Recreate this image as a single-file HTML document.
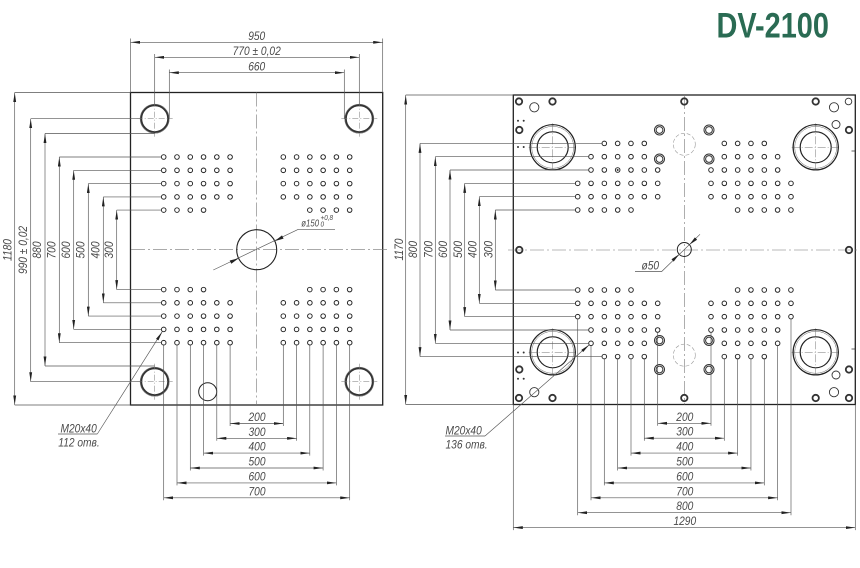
<!DOCTYPE html>
<html>
<head>
<meta charset="utf-8">
<style>
html,body{margin:0;padding:0;background:#fff;width:860px;height:568px;overflow:hidden}
svg{display:block}
.o{fill:none;stroke:#222;stroke-width:1.3}
.d{fill:none;stroke:#555;stroke-width:0.65}
.c{fill:none;stroke:#777;stroke-width:0.6;stroke-dasharray:14 3 2 3}
.h{fill:none;stroke:#222;stroke-width:0.95}
.tr{fill:none;stroke:#333;stroke-width:1.8}
.tn{fill:none;stroke:#333;stroke-width:0.9}
text{font-family:"Liberation Sans",sans-serif;font-style:italic;font-size:12px;fill:#4a4a4a}
</style>
</head>
<body>
<svg width="860" height="568" viewBox="0 0 860 568" xmlns="http://www.w3.org/2000/svg">
<defs>
<marker id="a" viewBox="0 0 10 3" refX="10" refY="1.5" markerWidth="9.5" markerHeight="3.1" markerUnits="userSpaceOnUse" orient="auto-start-reverse"><path d="M0 0L10 1.5L0 3z" fill="#222"/></marker>
<path id="P6" class="h" d="M-2.3 0a2.3 2.3 0 1 0 4.6 0a2.3 2.3 0 1 0-4.6 0m13.28 0a2.3 2.3 0 1 0 4.6 0a2.3 2.3 0 1 0-4.6 0m13.28 0a2.3 2.3 0 1 0 4.6 0a2.3 2.3 0 1 0-4.6 0m13.28 0a2.3 2.3 0 1 0 4.6 0a2.3 2.3 0 1 0-4.6 0m13.28 0a2.3 2.3 0 1 0 4.6 0a2.3 2.3 0 1 0-4.6 0m13.28 0a2.3 2.3 0 1 0 4.6 0a2.3 2.3 0 1 0-4.6 0"/>
<path id="P4" class="h" d="M-2.3 0a2.3 2.3 0 1 0 4.6 0a2.3 2.3 0 1 0-4.6 0m13.28 0a2.3 2.3 0 1 0 4.6 0a2.3 2.3 0 1 0-4.6 0m13.28 0a2.3 2.3 0 1 0 4.6 0a2.3 2.3 0 1 0-4.6 0m13.28 0a2.3 2.3 0 1 0 4.6 0a2.3 2.3 0 1 0-4.6 0"/>
<path id="N4" class="h" d="M-2.3 0a2.3 2.3 0 1 0 4.6 0a2.3 2.3 0 1 0-4.6 0m13.33 0a2.3 2.3 0 1 0 4.6 0a2.3 2.3 0 1 0-4.6 0m13.33 0a2.3 2.3 0 1 0 4.6 0a2.3 2.3 0 1 0-4.6 0m13.33 0a2.3 2.3 0 1 0 4.6 0a2.3 2.3 0 1 0-4.6 0"/>
<path id="N5" class="h" d="M-2.3 0a2.3 2.3 0 1 0 4.6 0a2.3 2.3 0 1 0-4.6 0m13.33 0a2.3 2.3 0 1 0 4.6 0a2.3 2.3 0 1 0-4.6 0m13.33 0a2.3 2.3 0 1 0 4.6 0a2.3 2.3 0 1 0-4.6 0m13.33 0a2.3 2.3 0 1 0 4.6 0a2.3 2.3 0 1 0-4.6 0m13.33 0a2.3 2.3 0 1 0 4.6 0a2.3 2.3 0 1 0-4.6 0"/>
<path id="N6" class="h" d="M-2.3 0a2.3 2.3 0 1 0 4.6 0a2.3 2.3 0 1 0-4.6 0m13.33 0a2.3 2.3 0 1 0 4.6 0a2.3 2.3 0 1 0-4.6 0m13.33 0a2.3 2.3 0 1 0 4.6 0a2.3 2.3 0 1 0-4.6 0m13.33 0a2.3 2.3 0 1 0 4.6 0a2.3 2.3 0 1 0-4.6 0m13.33 0a2.3 2.3 0 1 0 4.6 0a2.3 2.3 0 1 0-4.6 0m13.33 0a2.3 2.3 0 1 0 4.6 0a2.3 2.3 0 1 0-4.6 0"/>
<path id="N7" class="h" d="M-2.3 0a2.3 2.3 0 1 0 4.6 0a2.3 2.3 0 1 0-4.6 0m13.33 0a2.3 2.3 0 1 0 4.6 0a2.3 2.3 0 1 0-4.6 0m13.33 0a2.3 2.3 0 1 0 4.6 0a2.3 2.3 0 1 0-4.6 0m13.33 0a2.3 2.3 0 1 0 4.6 0a2.3 2.3 0 1 0-4.6 0m13.33 0a2.3 2.3 0 1 0 4.6 0a2.3 2.3 0 1 0-4.6 0m13.33 0a2.3 2.3 0 1 0 4.6 0a2.3 2.3 0 1 0-4.6 0m13.33 0a2.3 2.3 0 1 0 4.6 0a2.3 2.3 0 1 0-4.6 0"/>
<g id="LB">
<circle r="14.5" fill="none" stroke="#777" stroke-width="0.7"/>
<circle r="13.4" fill="none" stroke="#333" stroke-width="1.8"/>
<path d="M-18 0H18M0-18V18" fill="none" stroke="#777" stroke-width="0.5" stroke-dasharray="6 2 1 2"/>
</g>
<g id="RB">
<circle r="22.6" fill="none" stroke="#222" stroke-width="1.2"/>
<circle r="21" fill="none" stroke="#666" stroke-width="0.5"/>
<circle r="15.5" fill="none" stroke="#222" stroke-width="1.2"/>
<path d="M-24 0H24M0-24V24" fill="none" stroke="#777" stroke-width="0.5" stroke-dasharray="8 2 1 2"/>
<path d="M-22.6-1.2v2.4M22.6-1.2v2.4M-1.2-22.6h2.4M-1.2 22.6h2.4" stroke="#222" stroke-width="1"/>
</g>
<g id="DR">
<circle r="5" fill="none" stroke="#333" stroke-width="1"/>
<circle r="3.4" fill="none" stroke="#333" stroke-width="1"/>
</g>
</defs>

<!-- Title -->
<text transform="translate(716.5 37.3) scale(0.826 1)" style="font-style:normal;font-weight:bold;font-size:35px;fill:#2a6b53">DV-2100</text>

<!-- ================= LEFT PLATE ================= -->
<rect class="o" x="130.5" y="92.5" width="252.2" height="312.5"/>
<path class="c" d="M256.7 92.5V405M131 249.7H388"/>

<use href="#LB" x="154.7" y="118.7"/>
<use href="#LB" x="359.3" y="118.7"/>
<use href="#LB" x="154.7" y="381.7"/>
<use href="#LB" x="359.3" y="381.7"/>

<circle cx="256.7" cy="249.7" r="20" fill="none" stroke="#222" stroke-width="1.1"/>
<circle cx="207.7" cy="391.7" r="9" fill="none" stroke="#222" stroke-width="1"/>

<!-- holes left plate -->
<use href="#P6" x="163.7" y="157"/><use href="#P6" x="283.3" y="157"/>
<use href="#P6" x="163.7" y="170.3"/><use href="#P6" x="283.3" y="170.3"/>
<use href="#P6" x="163.7" y="183.6"/><use href="#P6" x="283.3" y="183.6"/>
<use href="#P6" x="163.7" y="196.9"/><use href="#P6" x="283.3" y="196.9"/>
<use href="#P4" x="163.7" y="210.1"/><use href="#P4" x="309.8" y="210.1"/>
<use href="#P4" x="163.7" y="289.6"/><use href="#P4" x="309.8" y="289.6"/>
<use href="#P6" x="163.7" y="302.8"/><use href="#P6" x="283.3" y="302.8"/>
<use href="#P6" x="163.7" y="316.1"/><use href="#P6" x="283.3" y="316.1"/>
<use href="#P6" x="163.7" y="329.4"/><use href="#P6" x="283.3" y="329.4"/>
<use href="#P6" x="163.7" y="342.7"/><use href="#P6" x="283.3" y="342.7"/>

<!-- left plate top dims -->
<path class="d" d="M130.5 38.5V92.5M382.7 38.5V92.5M154.7 54V104.5M359.3 54V104.5M169.3 69.5V118.7M344.3 69.5V118.7"/>
<line class="d" x1="130.5" y1="42.3" x2="382.7" y2="42.3" marker-start="url(#a)" marker-end="url(#a)"/>
<line class="d" x1="154.7" y1="57.3" x2="359.3" y2="57.3" marker-start="url(#a)" marker-end="url(#a)"/>
<line class="d" x1="169.3" y1="72.7" x2="344.3" y2="72.7" marker-start="url(#a)" marker-end="url(#a)"/>
<text transform="translate(256.7 40) scale(.85 1)" text-anchor="middle">950</text>
<text transform="translate(256.7 55) scale(.85 1)" text-anchor="middle">770 ± 0,02</text>
<text transform="translate(256.7 70.5) scale(.85 1)" text-anchor="middle">660</text>

<!-- left plate vertical dims -->
<path class="d" d="M14.7 92.5H130.5M14.7 405H130.5M30.7 118.7H140.5M30.7 381.7H140.5M45 133.5H154.7M45 366H154.7M59.3 157H161.4M59.3 342.7H161.4M73.7 170.3H161.4M73.7 329.4H161.4M88.3 183.6H161.4M88.3 316.1H161.4M103.3 196.9H161.4M103.3 302.8H161.4M116.7 210.1H161.4M116.7 289.6H161.4"/>
<line class="d" x1="14.7" y1="92.5" x2="14.7" y2="405" marker-start="url(#a)" marker-end="url(#a)"/>
<line class="d" x1="30.7" y1="118.7" x2="30.7" y2="381.7" marker-start="url(#a)" marker-end="url(#a)"/>
<line class="d" x1="45" y1="133.5" x2="45" y2="366" marker-start="url(#a)" marker-end="url(#a)"/>
<line class="d" x1="59.3" y1="157" x2="59.3" y2="342.7" marker-start="url(#a)" marker-end="url(#a)"/>
<line class="d" x1="73.7" y1="170.3" x2="73.7" y2="329.4" marker-start="url(#a)" marker-end="url(#a)"/>
<line class="d" x1="88.3" y1="183.6" x2="88.3" y2="316.1" marker-start="url(#a)" marker-end="url(#a)"/>
<line class="d" x1="103.3" y1="196.9" x2="103.3" y2="302.8" marker-start="url(#a)" marker-end="url(#a)"/>
<line class="d" x1="116.7" y1="210.1" x2="116.7" y2="289.6" marker-start="url(#a)" marker-end="url(#a)"/>
<text transform="translate(11.5 250) rotate(-90) scale(.85 1)" text-anchor="middle">1180</text>
<text transform="translate(27 250) rotate(-90) scale(.85 1)" text-anchor="middle">990 ± 0,02</text>
<text transform="translate(41.2 250) rotate(-90) scale(.85 1)" text-anchor="middle">880</text>
<text transform="translate(55.5 250) rotate(-90) scale(.85 1)" text-anchor="middle">700</text>
<text transform="translate(69.9 250) rotate(-90) scale(.85 1)" text-anchor="middle">600</text>
<text transform="translate(84.5 250) rotate(-90) scale(.85 1)" text-anchor="middle">500</text>
<text transform="translate(99.5 250) rotate(-90) scale(.85 1)" text-anchor="middle">400</text>
<text transform="translate(112.9 250) rotate(-90) scale(.85 1)" text-anchor="middle">300</text>

<!-- left plate bottom dims -->
<path class="d" d="M163.7 345.5V500.3M177 345.5V485.4M190.3 345.5V470.5M203.6 345.5V455.6M216.8 345.5V440.8M230.1 345.5V426M283.3 345.5V426M296.6 345.5V440.8M309.8 345.5V455.6M323.1 345.5V470.5M336.4 345.5V485.4M349.7 345.5V500.3"/>
<line class="d" x1="230.1" y1="423.5" x2="283.3" y2="423.5" marker-start="url(#a)" marker-end="url(#a)"/>
<line class="d" x1="216.8" y1="438.3" x2="296.6" y2="438.3" marker-start="url(#a)" marker-end="url(#a)"/>
<line class="d" x1="203.6" y1="453.1" x2="309.8" y2="453.1" marker-start="url(#a)" marker-end="url(#a)"/>
<line class="d" x1="190.3" y1="468" x2="323.1" y2="468" marker-start="url(#a)" marker-end="url(#a)"/>
<line class="d" x1="177" y1="482.9" x2="336.4" y2="482.9" marker-start="url(#a)" marker-end="url(#a)"/>
<line class="d" x1="163.7" y1="497.8" x2="349.7" y2="497.8" marker-start="url(#a)" marker-end="url(#a)"/>
<text transform="translate(257 421) scale(.85 1)" text-anchor="middle">200</text>
<text transform="translate(257 435.8) scale(.85 1)" text-anchor="middle">300</text>
<text transform="translate(257 450.6) scale(.85 1)" text-anchor="middle">400</text>
<text transform="translate(257 465.5) scale(.85 1)" text-anchor="middle">500</text>
<text transform="translate(257 480.4) scale(.85 1)" text-anchor="middle">600</text>
<text transform="translate(257 495.3) scale(.85 1)" text-anchor="middle">700</text>

<!-- phi150 leader -->
<path class="d" d="M213.3 270L298.3 229.3H335"/>
<polygon points="274.7,241.1 283.6,238.6 282.0,235.4" fill="#222"/>
<polygon points="238.7,258.3 231.3,263.7 229.7,260.5" fill="#222"/>
<text transform="translate(301.3 226.3) scale(.78 1)" style="font-size:10px">ø150</text>
<text transform="translate(320.5 219.8) scale(.85 1)" style="font-size:7.5px">+0,8</text>
<text transform="translate(320.5 226.5) scale(.85 1)" style="font-size:7.5px">0</text>

<!-- M20x40 left leader -->
<path class="d" d="M58 434H97.3"/>
<line class="d" x1="97.3" y1="434" x2="162.3" y2="331.6" marker-end="url(#a)"/>
<text transform="translate(60.5 432.3) scale(.85 1)">M20x40</text>
<text transform="translate(58.3 446.5) scale(.85 1)">112 отв.</text>

<!-- ================= RIGHT PLATE ================= -->
<rect class="o" x="513.3" y="95" width="342" height="309.5"/>
<path class="c" d="M684.3 95V404.5M508 250H858"/>

<use href="#RB" x="552.7" y="147.3"/>
<use href="#RB" x="815.7" y="147.3"/>
<use href="#RB" x="552.7" y="352.3"/>
<use href="#RB" x="815.7" y="352.3"/>

<!-- small features -->
<g class="tr">
<circle cx="519" cy="101.5" r="3.2"/><circle cx="552.5" cy="101.5" r="3.2"/><circle cx="684.3" cy="101.5" r="3.2"/><circle cx="815.7" cy="101.5" r="3.2"/>
<circle cx="519.3" cy="130" r="3.2"/><circle cx="849" cy="130" r="3.2"/>
<circle cx="519.3" cy="250" r="3.2"/><circle cx="849" cy="250" r="3.2"/>
<circle cx="519.3" cy="369.5" r="3.2"/><circle cx="849" cy="369.5" r="3.2"/>
<circle cx="519" cy="398" r="3.2"/><circle cx="552.5" cy="398" r="3.2"/><circle cx="684.3" cy="398" r="3.2"/><circle cx="815.7" cy="398" r="3.2"/><circle cx="849" cy="398" r="3.2"/>
</g>
<g class="tn">
<circle cx="534.3" cy="107.3" r="4.6"/><circle cx="534.3" cy="392.2" r="4.6"/>
<circle cx="834" cy="107.3" r="4.6"/><circle cx="834" cy="392.2" r="4.6"/>
<circle cx="836" cy="124.5" r="4"/><circle cx="836" cy="375" r="4"/>
<circle cx="848.5" cy="101.5" r="3.3"/>
</g>
<g fill="#333">
<circle cx="518" cy="120.7" r="1"/><circle cx="523.7" cy="120.7" r="1"/>
<circle cx="518" cy="147" r="1"/><circle cx="523.7" cy="147" r="1"/>
<circle cx="518" cy="352.5" r="1"/><circle cx="523.7" cy="352.5" r="1"/>
<circle cx="518" cy="378.8" r="1"/><circle cx="523.7" cy="378.8" r="1"/>
<circle cx="617.65" cy="170" r="1"/>
</g>
<path d="M851.5 151H855.3M851.5 349H855.3" stroke="#333" stroke-width="0.8"/>
<use href="#DR" x="659.5" y="130"/><use href="#DR" x="709" y="130"/>
<use href="#DR" x="659.5" y="159"/><use href="#DR" x="709" y="159"/>
<use href="#DR" x="659.5" y="340.5"/><use href="#DR" x="709" y="340.5"/>
<use href="#DR" x="659.5" y="369.5"/><use href="#DR" x="709" y="369.5"/>
<circle cx="684.3" cy="144.3" r="11" fill="none" stroke="#999" stroke-width="0.6" stroke-dasharray="4 2"/>
<circle cx="684.3" cy="355.2" r="11" fill="none" stroke="#999" stroke-width="0.6" stroke-dasharray="4 2"/>
<circle cx="684.3" cy="249.5" r="7" fill="none" stroke="#222" stroke-width="1"/>

<!-- holes right plate -->
<use href="#N4" x="604.3" y="143.4"/><use href="#N4" x="724.3" y="143.4"/>
<use href="#N5" x="591" y="156.7"/><use href="#N5" x="724.3" y="156.7"/>
<use href="#N6" x="591" y="170"/><use href="#N6" x="711" y="170"/>
<use href="#N7" x="577.7" y="183.35"/><use href="#N7" x="711" y="183.35"/>
<use href="#N7" x="577.7" y="196.7"/><use href="#N7" x="711" y="196.7"/>
<use href="#N5" x="577.7" y="210"/><use href="#N5" x="737.6" y="210"/>
<use href="#N5" x="577.7" y="290"/><use href="#N5" x="737.6" y="290"/>
<use href="#N7" x="577.7" y="303.3"/><use href="#N7" x="711" y="303.3"/>
<use href="#N7" x="577.7" y="316.65"/><use href="#N7" x="711" y="316.65"/>
<use href="#N6" x="591" y="330"/><use href="#N6" x="711" y="330"/>
<use href="#N5" x="591" y="343.3"/><use href="#N5" x="724.3" y="343.3"/>
<use href="#N4" x="604.3" y="356.6"/><use href="#N4" x="724.3" y="356.6"/>

<!-- right plate vertical dims -->
<path class="d" d="M405.7 95H513.3M405.7 404.5H513.3M420 143.4H602M420 356.6H602M435.3 156.7H588.7M435.3 343.3H588.7M450 170H588.7M450 330H588.7M464.7 183.35H575.4M464.7 316.65H575.4M479.3 196.7H575.4M479.3 303.3H575.4M495.3 210H575.4M495.3 290H575.4"/>
<line class="d" x1="405.7" y1="95" x2="405.7" y2="404.5" marker-start="url(#a)" marker-end="url(#a)"/>
<line class="d" x1="420" y1="143.4" x2="420" y2="356.6" marker-start="url(#a)" marker-end="url(#a)"/>
<line class="d" x1="435.3" y1="156.7" x2="435.3" y2="343.3" marker-start="url(#a)" marker-end="url(#a)"/>
<line class="d" x1="450" y1="170" x2="450" y2="330" marker-start="url(#a)" marker-end="url(#a)"/>
<line class="d" x1="464.7" y1="183.35" x2="464.7" y2="316.65" marker-start="url(#a)" marker-end="url(#a)"/>
<line class="d" x1="479.3" y1="196.7" x2="479.3" y2="303.3" marker-start="url(#a)" marker-end="url(#a)"/>
<line class="d" x1="495.3" y1="210" x2="495.3" y2="290" marker-start="url(#a)" marker-end="url(#a)"/>
<text transform="translate(402.9 249.5) rotate(-90) scale(.85 1)" text-anchor="middle">1170</text>
<text transform="translate(417.2 249.5) rotate(-90) scale(.85 1)" text-anchor="middle">800</text>
<text transform="translate(432.5 249.5) rotate(-90) scale(.85 1)" text-anchor="middle">700</text>
<text transform="translate(447.2 249.5) rotate(-90) scale(.85 1)" text-anchor="middle">600</text>
<text transform="translate(461.9 249.5) rotate(-90) scale(.85 1)" text-anchor="middle">500</text>
<text transform="translate(476.5 249.5) rotate(-90) scale(.85 1)" text-anchor="middle">400</text>
<text transform="translate(492.5 249.5) rotate(-90) scale(.85 1)" text-anchor="middle">300</text>

<!-- right plate bottom dims -->
<path class="d" d="M657.7 332.5V425.8M711 332.5V425.8M644.3 359V440.7M724.3 359V440.7M631 359V455.6M737.6 359V455.6M617.65 359V470.5M750.95 359V470.5M604.3 359V485.4M764.3 359V485.4M591 345.6V500.3M777.6 345.6V500.3M577.7 319V515.2M791 319V515.2M513.3 404.5V530.1M855.3 404.5V530.1"/>
<line class="d" x1="657.7" y1="423.3" x2="711" y2="423.3" marker-start="url(#a)" marker-end="url(#a)"/>
<line class="d" x1="644.3" y1="438.2" x2="724.3" y2="438.2" marker-start="url(#a)" marker-end="url(#a)"/>
<line class="d" x1="631" y1="453.1" x2="737.6" y2="453.1" marker-start="url(#a)" marker-end="url(#a)"/>
<line class="d" x1="617.65" y1="468" x2="750.95" y2="468" marker-start="url(#a)" marker-end="url(#a)"/>
<line class="d" x1="604.3" y1="482.9" x2="764.3" y2="482.9" marker-start="url(#a)" marker-end="url(#a)"/>
<line class="d" x1="591" y1="497.8" x2="777.6" y2="497.8" marker-start="url(#a)" marker-end="url(#a)"/>
<line class="d" x1="577.7" y1="512.7" x2="791" y2="512.7" marker-start="url(#a)" marker-end="url(#a)"/>
<line class="d" x1="513.3" y1="527.6" x2="855.3" y2="527.6" marker-start="url(#a)" marker-end="url(#a)"/>
<text transform="translate(684.8 420.8) scale(.85 1)" text-anchor="middle">200</text>
<text transform="translate(684.8 435.7) scale(.85 1)" text-anchor="middle">300</text>
<text transform="translate(684.8 450.6) scale(.85 1)" text-anchor="middle">400</text>
<text transform="translate(684.8 465.5) scale(.85 1)" text-anchor="middle">500</text>
<text transform="translate(684.8 480.4) scale(.85 1)" text-anchor="middle">600</text>
<text transform="translate(684.8 495.3) scale(.85 1)" text-anchor="middle">700</text>
<text transform="translate(684.8 510.2) scale(.85 1)" text-anchor="middle">800</text>
<text transform="translate(684.8 525.1) scale(.85 1)" text-anchor="middle">1290</text>

<!-- phi50 leader -->
<path class="d" d="M635 271.5H661.7L700 234.3"/>
<polygon points="679.2,254.3 673.7,261.6 671.5,259.2" fill="#222"/>
<polygon points="689.4,244.7 697.1,239.8 694.9,237.4" fill="#222"/>
<text transform="translate(641.5 269.3) scale(.85 1)">ø50</text>

<!-- M20x40 right leader -->
<path class="d" d="M445 436H485"/>
<line class="d" x1="485" y1="436" x2="589.3" y2="344.8" marker-end="url(#a)"/>
<text transform="translate(445.5 434.3) scale(.85 1)">M20x40</text>
<text transform="translate(445.5 448.5) scale(.85 1)">136 отв.</text>
</svg>
</body>
</html>
